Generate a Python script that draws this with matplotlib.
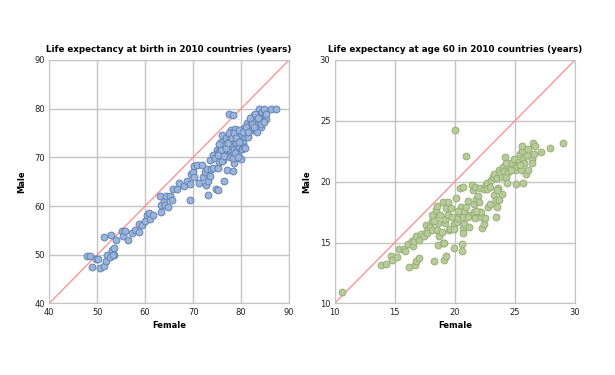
import matplotlib.pyplot as plt

# Lebenserwartung bei Geburt (weiblich, männlich)
birth_female = [47.9, 48.6, 49.0, 49.7, 50.2, 50.6, 51.4, 51.5, 51.8, 52.1, 52.8, 52.6, 53.1, 53.5,
                53.5, 53.4, 54.0, 55.2, 55.4, 55.7, 56.5, 57.2, 57.8, 58.8, 58.8, 59.4, 60.0, 60.3,
                61.1, 60.9, 61.7, 63.1, 63.3, 63.4, 63.9, 64.1, 64.4, 64.7, 65.1, 65.6, 65.8, 66.7,
                67.1, 68.0, 68.7, 69.4, 69.4, 69.5, 70.0, 70.1, 70.2, 70.8, 71.3, 71.8, 72.1, 72.4,
                72.6, 72.8, 73.1, 73.2, 73.5, 73.6, 73.8, 74.1, 74.7, 75.1, 75.1, 76.5, 77.1, 78.3,
                78.6, 80.0, 77.4, 78.3,
                74.9, 75.2, 75.6, 75.7, 75.9, 76.1, 76.3, 76.4, 76.6, 76.8, 76.9, 77.2, 77.5, 77.6,
                77.8, 78.0, 78.0, 78.2, 78.3, 78.5, 78.7, 78.9, 79.0, 79.2, 79.3, 79.6, 79.7, 79.9,
                80.1, 80.3, 80.6, 80.6, 80.8, 81.1, 81.3, 81.5, 81.7, 82.0, 82.2, 82.4, 82.5, 82.7,
                82.8, 83.1, 83.3, 83.4, 83.5, 83.8, 83.9, 84.0, 84.2, 84.4, 84.6, 84.8, 84.9, 85.1,
                86.3, 87.2,
                74.2, 74.6, 75.4, 76.1, 77.6, 78.3, 78.7, 79.4, 80.8,
                75.5, 75.9, 76.8, 77.3, 77.5, 78.1, 78.6, 78.9, 79.5, 79.6, 80.3, 81.1, 81.5, 81.8,
                82.3, 82.7, 83.0, 83.6, 84.1, 84.7, 85.1, 75.1, 76.4]
birth_male = [49.7, 49.7, 47.5, 49.2, 49.2, 47.3, 47.6, 53.6, 48.7, 49.9, 54.0, 49.6, 50.9, 51.4,
              50.0, 49.9, 53.1, 54.8, 53.9, 54.8, 53.1, 54.4, 55.1, 54.7, 56.3, 56.1, 57.0, 58.1,
              57.3, 58.5, 58.2, 62.1, 58.8, 60.2, 61.1, 60.2, 62.1, 59.7, 62.1, 61.2, 63.6, 63.6,
              64.8, 64.1, 65.2, 64.5, 61.2, 66.5, 67.0, 66.0, 68.2, 68.4, 64.7, 68.4, 66.0, 67.0,
              64.3, 67.7, 62.2, 65.1, 66.2, 69.5, 67.7, 67.9, 63.6, 63.3, 67.9, 65.1, 67.5, 67.1,
              68.8, 69.6, 79.0, 78.6,
              71.5, 70.8, 72.2, 70.1, 73.2, 74.6, 69.5, 71.2, 72.5, 73.9, 70.5, 71.8, 73.2, 74.2,
              71.2, 75.6, 72.5, 70.5, 73.6, 71.8, 75.8, 72.9, 74.4, 71.5, 70.6, 72.3, 73.6, 74.8,
              71.8, 72.9, 76.0, 72.1, 74.2, 74.9, 77.1, 74.1, 76.3, 77.3, 75.6, 78.0, 76.6, 78.7,
              75.9, 77.7, 75.2, 78.4, 76.8, 80.0, 79.0, 77.7, 76.3, 79.3, 78.1, 79.9, 78.8, 77.9,
              80.0, 80.0,
              70.5, 69.8, 69.1, 69.3, 70.1, 69.8, 70.8, 70.0, 72.0,
              72.7, 71.6, 72.0, 72.9, 75.0, 74.0, 75.0, 74.0, 75.6, 73.2, 75.3, 76.3, 75.3, 78.0,
              76.9, 76.3, 79.0, 78.1, 76.8, 77.3, 79.0, 70.5, 70.3]

# Lebenserwartung mit 60 Jahren (weiblich, männlich)
age60_female = [10.6, 13.9, 14.3, 14.7, 14.8, 15.2, 15.4, 15.8, 15.9, 16.2, 16.1, 16.4, 16.5, 16.6,
                16.7, 16.8, 16.8, 17.0, 17.0, 17.2, 17.4, 17.6, 17.7, 17.7, 17.9, 18.1, 18.1, 18.2,
                18.3, 18.4, 18.5, 18.5, 18.6, 18.6, 18.7, 18.8, 18.9, 19.0, 19.0, 19.1, 19.1, 19.2,
                19.2, 19.3, 19.3, 19.4, 19.5, 19.6, 19.7, 19.8, 19.9, 19.9, 19.9, 20.0, 20.1, 20.2,
                20.3, 20.4, 20.4, 20.5, 20.6, 20.6, 20.7, 20.7, 20.7, 20.7, 20.8, 20.8, 20.9, 20.9,
                21.1, 21.2, 21.3, 21.4, 21.5, 21.6, 21.6, 21.7, 21.7, 21.8, 21.9, 22.0, 22.0, 22.1,
                22.2, 22.2, 22.3, 22.4, 22.4, 22.5, 22.6, 22.7, 22.8, 22.9, 23.0, 23.2, 23.3, 23.3,
                23.4, 23.4, 23.5, 23.5, 23.6, 23.7, 23.7, 23.8, 23.9, 23.9, 24.0, 24.1, 24.2, 24.3,
                24.35, 24.4, 24.5, 24.65, 24.9, 25.0, 25.1, 25.2, 25.3, 25.4, 25.5, 25.6, 25.6, 25.65,
                25.7, 25.75, 25.9, 26.0, 26.1, 26.1, 26.4, 26.4, 26.5, 26.6, 26.7, 27.2, 27.9, 29.0,
                18.1, 18.3, 19.4, 20.3, 21.1, 21.8, 22.7, 22.9, 23.5, 24.3, 24.7, 25.4]
age60_male = [10.9, 13.15, 13.2, 13.9, 13.6, 13.8, 14.5, 14.5, 14.3, 13.0, 14.9, 15.15, 14.7, 15.1,
              13.15, 15.5, 13.5, 13.7, 15.2, 15.7, 15.5, 16.4, 16.0, 15.8, 16.3, 16.0, 16.8, 17.3,
              13.5, 17.7, 18.0, 16.0, 14.8, 16.6, 15.5, 17.3, 15.9, 18.3, 15.0, 13.6, 15.0, 16.6,
              16.9, 17.8, 13.9, 17.3, 16.0, 16.1, 17.8, 17.1, 16.5, 16.1, 14.55, 24.25, 18.7, 16.7,
              17.0, 19.5, 17.4, 17.9, 14.9, 14.3, 17.1, 19.6, 16.2, 15.8, 16.5, 17.6, 22.1, 17.9,
              18.4, 16.3, 17.3, 19.7, 19.3, 18.2, 17.5, 17.0, 19.6, 18.6, 18.8, 17.5, 18.3, 19.5,
              17.1, 17.5, 16.2, 16.5, 19.4, 17.0, 19.7, 19.9, 17.9, 18.2, 20.1, 20.35, 20.6, 18.9,
              18.5, 17.1, 20.3, 17.95, 19.45, 21.0, 18.5, 20.7, 20.4, 19.0, 21.2, 20.9, 22.0, 20.4,
              19.9, 20.8, 21.2, 21.5, 21.9, 21.0, 19.8, 21.3, 21.6, 22.3, 21.0, 22.5, 22.9, 19.9,
              21.9, 21.5, 20.6, 22.2, 22.7, 21.0, 21.9, 21.5, 23.2, 22.3, 22.9, 22.4, 22.8, 23.15,
              17.3, 16.8, 18.3, 17.6, 17.1, 17.6, 19.4, 19.6, 19.3, 21.5, 21.0, 21.4]

plt.rcParams['font.family'] = ['DejaVu Sans']

fig = plt.figure(figsize=(6.15, 3.75), dpi=100)
ax1 = fig.add_axes([0.080, 0.191, 0.390, 0.649])
ax2 = fig.add_axes([0.544, 0.191, 0.391, 0.649])

charts = [
    (ax1, birth_female, birth_male, (40, 90), 10, '#9ab4da', '#6283b5',
     'Life expectancy at birth in 2010 countries (years)'),
    (ax2, age60_female, age60_male, (10, 30), 5, '#b8cb9b', '#97ae76',
     'Life expectancy at age 60 in 2010 countries (years)'),
]

for ax, xs, ys, lim, step, face, edge, title in charts:
    ax.plot(lim, lim, color='#ff8a8a', lw=0.9, zorder=2)
    ax.scatter(xs, ys, s=24, facecolor=face, edgecolor=edge, linewidths=0.7, zorder=3)
    ax.set_xlim(lim)
    ax.set_ylim(lim)
    ax.set_xticks(range(lim[0], lim[1] + 1, step))
    ax.set_yticks(range(lim[0], lim[1] + 1, step))
    ax.grid(True, color='#c4c4c4', lw=1.0)
    ax.set_axisbelow(True)
    for sp in ax.spines.values():
        sp.set_color('#c4c4c4')
    ax.tick_params(length=0, labelsize=6, colors='#222222', pad=3)
    ax.set_title(title, fontsize=6.3, fontweight='bold', pad=6)
    ax.set_xlabel('Female', fontsize=6, fontweight='bold', labelpad=3)
    ax.set_ylabel('Male', fontsize=6, fontweight='bold', labelpad=6)

fig.savefig('out.png', dpi=100)
